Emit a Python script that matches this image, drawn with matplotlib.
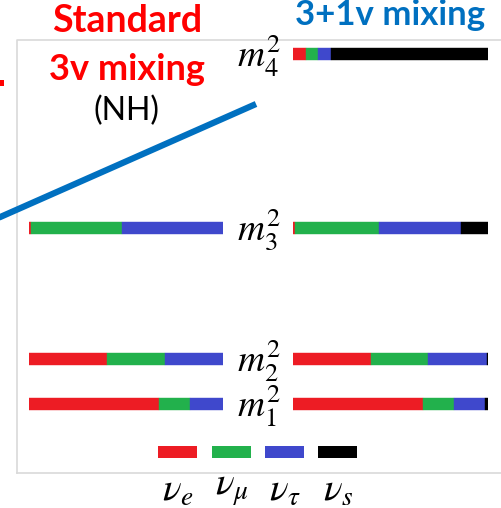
import numpy as np
import matplotlib
matplotlib.use("Agg")
import matplotlib.pyplot as plt
from matplotlib.patches import Rectangle

W, H = 502, 508

# flavour content |U_ai|^2 of each mass state
flavours = ["e", "mu", "tau", "s"]
flavour_labels = [r"$\nu_e$", r"$\nu_\mu$", r"$\nu_\tau$", r"$\nu_s$"]
colors = ["#ED1C24", "#22B14C", "#3F48CC", "#000000"]

states = ["m1", "m2", "m3", "m4"]
state_labels = [r"$m_1^2$", r"$m_2^2$", r"$m_3^2$", r"$m_4^2$"]

std_e = [0.67, 0.40, 0.01]
std_mu = [0.16, 0.30, 0.47]
std_tau = [0.17, 0.30, 0.52]

ster_e = [0.67, 0.40, 0.01, 0.067]
ster_mu = [0.16, 0.29, 0.43, 0.062]
ster_tau = [0.16, 0.30, 0.42, 0.067]
ster_s = [0.015, 0.005, 0.14, 0.804]

# layout: vertical level of each mass state (pixel rows)
level_y = [404, 359, 228, 53.5]

plt.rcParams["font.family"] = ["Lato", "DejaVu Sans"]
plt.rcParams["mathtext.fontset"] = "stix"

fig = plt.figure(figsize=(W / 100, H / 100), dpi=100)
bg = fig.add_axes([0, 0, 1, 1])
bg.set_xlim(0, W)
bg.set_ylim(H, 0)
bg.axis("off")

# light frame
bg.plot([17, 17, W + 5], [473, 40, 40], color="#D9D9D9", lw=1.2)
bg.plot([17, W + 5], [473, 473], color="#D9D9D9", lw=1.2)

# titles
bg.text(127, 21, "Standard", color="#FF0000", fontsize=27, fontweight="bold",
        ha="center", va="center")
bg.text(127, 69, "3v mixing", color="#FF0000", fontsize=26, fontweight="bold",
        ha="center", va="center")
bg.text(127, 111, "(NH)", color="black", fontsize=23, ha="center", va="center")
bg.text(390, 15, "3+1v mixing", color="#0070C0", fontsize=25, fontweight="bold",
        ha="center", va="center")
bg.add_patch(Rectangle((0, 80), 4, 6, color="#FF0000", lw=0))

# blue line
bg.plot([-2, 256], [218, 104], color="#0070C0", lw=4.5, solid_capstyle="butt")

# mass labels
for lab, y in zip(state_labels, level_y):
    bg.text(259, y + 2, lab, fontsize=27, ha="center", va="center")


def bar_axes(x0, x1):
    ax = fig.add_axes([x0 / W, 0, (x1 - x0) / W, 1])
    ax.set_xlim(0, 1)
    ax.set_ylim(H, 0)
    ax.axis("off")
    return ax


def draw_bars(ax, ys, series):
    left = np.zeros(len(ys))
    for vals, c in zip(series, colors):
        vals = np.array(vals)
        ax.barh(ys, vals, left=left, height=12, color=c,
                edgecolor=c, linewidth=0.3)
        left += vals


tot_std = np.array(std_e) + np.array(std_mu) + np.array(std_tau)
ax_l = bar_axes(29, 223)
draw_bars(ax_l, level_y[:3],
          [np.array(std_e) / tot_std, np.array(std_mu) / tot_std,
           np.array(std_tau) / tot_std])

tot_st = (np.array(ster_e) + np.array(ster_mu) + np.array(ster_tau)
          + np.array(ster_s))
ax_r = bar_axes(293, 488)
draw_bars(ax_r, level_y,
          [np.array(ster_e) / tot_st, np.array(ster_mu) / tot_st,
           np.array(ster_tau) / tot_st, np.array(ster_s) / tot_st])

# legend
leg_x = [158, 212, 265, 318]
for x, c, lab in zip(leg_x, colors, flavour_labels):
    bg.add_patch(Rectangle((x, 446), 39, 12, color=c, lw=0))
    bg.text(x + 20, 490, lab, fontsize=28, ha="center", va="center")

fig.savefig("out.png", dpi=100)
